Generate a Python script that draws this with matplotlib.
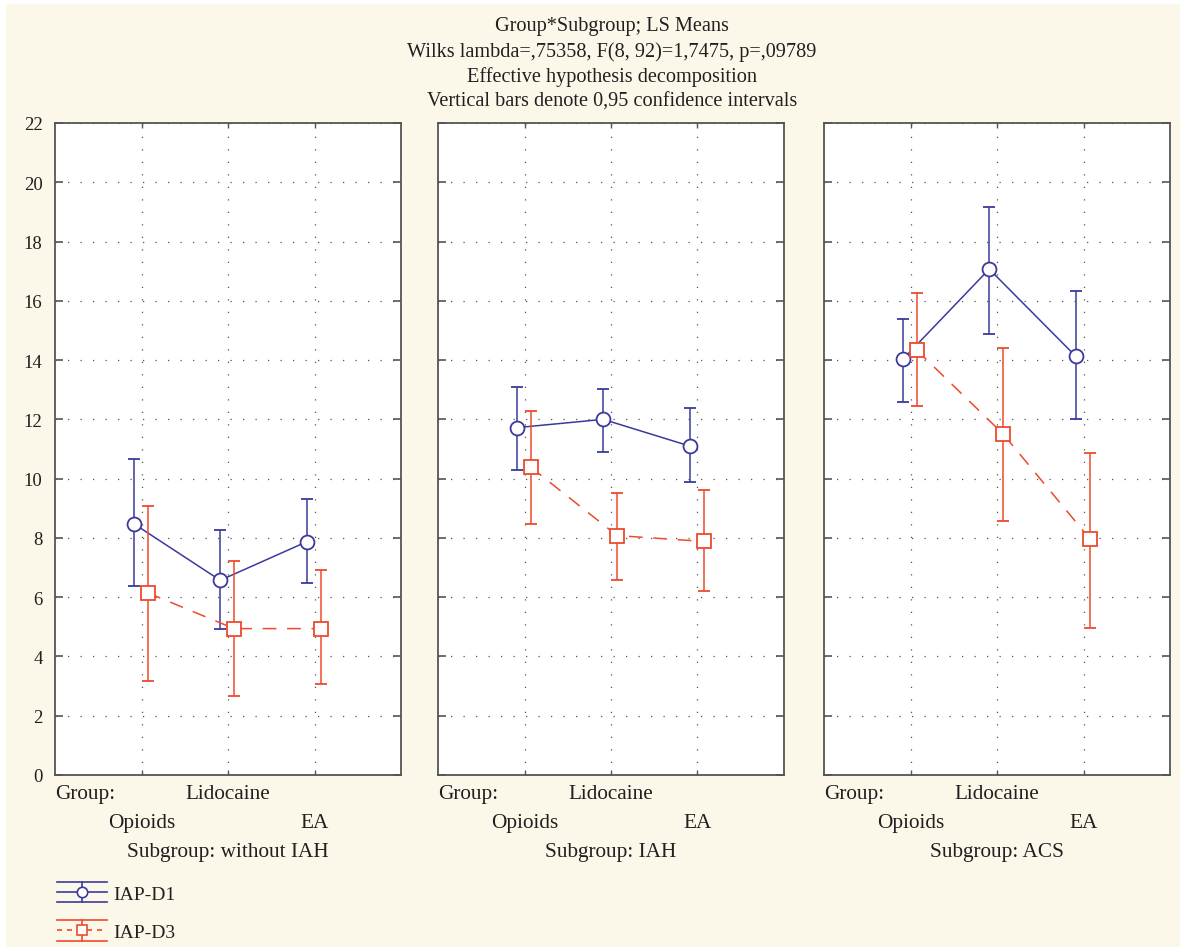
import matplotlib.pyplot as plt
from matplotlib.patches import Rectangle
from matplotlib.lines import Line2D
from matplotlib.legend_handler import HandlerBase
from matplotlib.container import ErrorbarContainer
import numpy as np

# LS means and 0.95 confidence limits
groups = ['Opioids', 'Lidocaine', 'EA']
subgroups = ['without IAH', 'IAH', 'ACS']

d1_mean = [[8.48, 6.57, 7.87], [11.72, 12.00, 11.10], [14.02, 17.07, 14.13]]
d1_low = [[6.37, 4.93, 6.48], [10.29, 10.91, 9.87], [12.58, 14.89, 12.00]]
d1_high = [[10.67, 8.28, 9.30], [13.10, 13.04, 12.37], [15.39, 19.18, 16.32]]

d3_mean = [[6.15, 4.94, 4.94], [10.39, 8.08, 7.88], [14.34, 11.51, 7.98]]
d3_low = [[3.18, 2.65, 3.06], [8.47, 6.58, 6.22], [12.44, 8.56, 4.97]]
d3_high = [[9.07, 7.21, 6.91], [12.29, 9.52, 9.61], [16.28, 14.42, 10.88]]

series_names = ['IAP-D1', 'IAP-D3']

blue = '#3b3a9c'
red = '#ee4a2c'
txt = '#231f20'
cream = '#fcf8e9'

plt.rcParams['font.family'] = ['Liberation Serif', 'DejaVu Serif']
plt.rcParams['font.size'] = 13

fig = plt.figure(figsize=(11.86, 9.53), dpi=100, facecolor='white')
fig.patches.append(Rectangle((6 / 1186, 5 / 953), 1174 / 1186, 943 / 953,
                             transform=fig.transFigure, facecolor=cream,
                             edgecolor='none', zorder=-10))


class ErrorbarHandler(HandlerBase):
    # Statistica-like legend key: caps span the full key width
    def create_artists(self, legend, orig_handle, xdescent, ydescent,
                       width, height, fontsize, trans):
        line = orig_handle.lines[0]
        c = line.get_color()
        x0, x1 = -xdescent, -xdescent + width
        y0, y1 = -ydescent, -ydescent + height
        xm, ym = (x0 + x1) / 2, (y0 + y1) / 2
        arts = [
            Line2D([x0, x1], [y1, y1], color=c, lw=1.2),
            Line2D([x0, x1], [y0, y0], color=c, lw=1.2),
            Line2D([x0, x1], [ym, ym], color=c, lw=1.2,
                   linestyle=line.get_linestyle()),
            Line2D([xm, xm], [y0, y1], color=c, lw=1.2),
            Line2D([xm], [ym], color=c, marker=line.get_marker(),
                   markersize=7.5, markerfacecolor='white',
                   markeredgewidth=1.2, linestyle='none'),
        ]
        if line.get_linestyle() != '-':
            arts[2].set_dashes((3, 3))
        for a in arts:
            a.set_transform(trans)
        return arts


lefts = [55, 438, 824]
x = np.arange(1, 4)
lab_fs = 15.3
handles = []
for k, sub in enumerate(subgroups):
    ax = fig.add_axes([lefts[k] / 1186, 1 - 776 / 953, 346 / 1186, 652 / 953])
    ax.set_facecolor('white')

    m1 = np.array(d1_mean[k])
    e1 = [m1 - np.array(d1_low[k]), np.array(d1_high[k]) - m1]
    h1 = ax.errorbar(x - 0.09, m1, yerr=e1, color=blue, lw=1.1, capsize=4,
                     capthick=1.1, marker='o', markersize=10,
                     markerfacecolor='white', markeredgewidth=1.3, zorder=3)
    m3 = np.array(d3_mean[k])
    e3 = [m3 - np.array(d3_low[k]), np.array(d3_high[k]) - m3]
    h3 = ax.errorbar(x + 0.07, m3, yerr=e3, color=red, lw=1.1, capsize=4,
                     capthick=1.1, marker='s', markersize=9.5,
                     markerfacecolor='white', markeredgewidth=1.3,
                     linestyle='--', dashes=(9, 7), zorder=4)
    if k == 0:
        handles = [h1, h3]

    ax.set_xlim(0, 4)
    ax.set_ylim(0, 22)
    ax.set_xticks(x)
    ax.set_xticklabels([])
    ax.set_yticks(np.arange(0, 23, 2))
    ax.grid(True, color='#555555', linestyle=(0, (1, 9)), linewidth=0.9)
    ax.tick_params(axis='y', direction='in', length=6, width=1.2,
                   left=True, right=True, colors='#555555',
                   labelcolor=txt, labelsize=13.5, pad=9)
    ax.tick_params(axis='x', direction='in', length=3.5, width=1,
                   top=True, bottom=True, colors='#555555')
    if k > 0:
        ax.set_yticklabels([])
    for s in ax.spines.values():
        s.set_color('#555555')
        s.set_linewidth(1.3)

    tr = ax.get_xaxis_transform()
    ax.text(0, -0.029, 'Group:', transform=ax.transAxes, ha='left',
            va='center', color=txt, fontsize=lab_fs)
    ax.text(x[1], -0.029, groups[1], transform=tr, ha='center', va='center',
            color=txt, fontsize=lab_fs)
    ax.text(x[0], -0.0736, groups[0], transform=tr, ha='center', va='center',
            color=txt, fontsize=lab_fs)
    ax.text(x[2], -0.0736, groups[2], transform=tr, ha='center', va='center',
            color=txt, fontsize=lab_fs)
    ax.text(0.5, -0.118, 'Subgroup: ' + sub, transform=ax.transAxes,
            ha='center', va='center', color=txt, fontsize=lab_fs)

title_lines = ['Group*Subgroup; LS Means',
               'Wilks lambda=,75358, F(8, 92)=1,7475, p=,09789',
               'Effective hypothesis decomposition',
               'Vertical bars denote 0,95 confidence intervals']
for i, t in enumerate(title_lines):
    fig.text(612 / 1186, 1 - (27 + 25 * i) / 953, t, ha='center',
             va='center', fontsize=14.6, color=txt)

fig.legend(handles, series_names, loc='upper left',
           bbox_to_anchor=(49 / 1186, 1 - 875 / 953), frameon=False,
           handler_map={ErrorbarContainer: ErrorbarHandler()},
           handlelength=2.6, handleheight=1.25, labelspacing=0.9,
           handletextpad=0.3, borderaxespad=0, fontsize=14,
           labelcolor=txt)

fig.savefig('out.png', dpi=100, facecolor=fig.get_facecolor())
